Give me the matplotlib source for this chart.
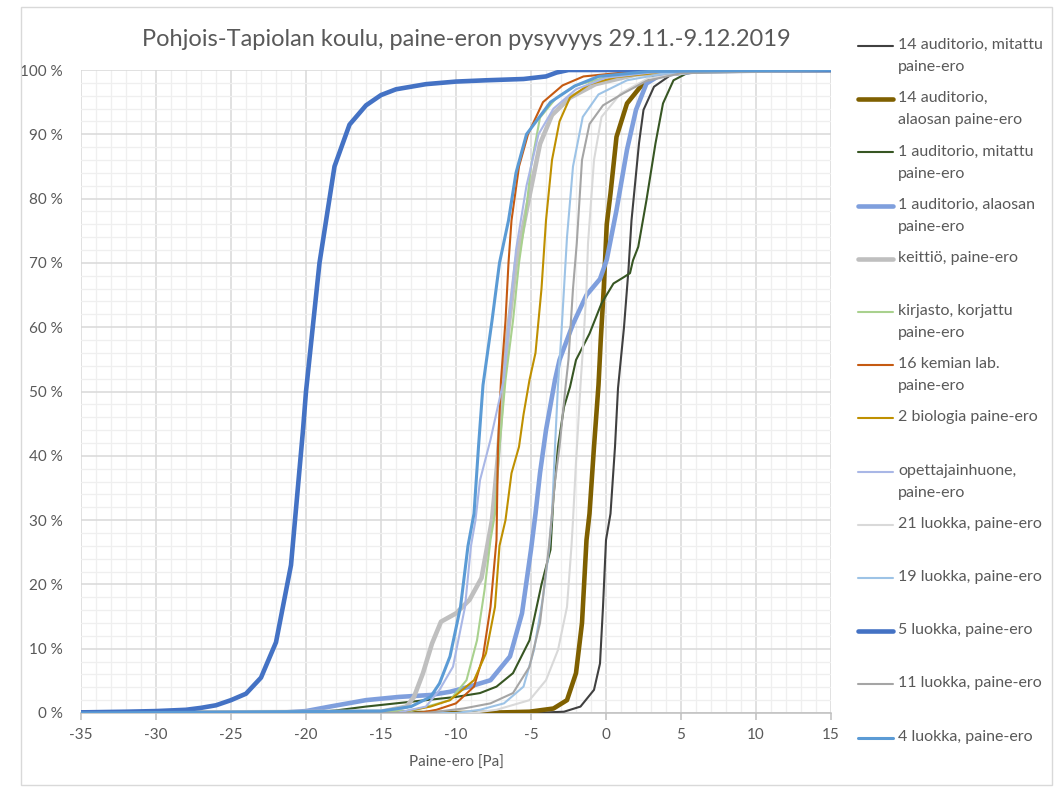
import matplotlib
matplotlib.use("Agg")
import matplotlib.pyplot as plt
from matplotlib.lines import Line2D
from matplotlib.patches import Rectangle
from matplotlib.ticker import MultipleLocator, FuncFormatter

plt.rcParams["font.family"] = ["Lato", "DejaVu Sans"]

# ============================================================
# DATA  (paine-ero [Pa], osuus ajasta [%])
# ============================================================

series_names = [
    "14 auditorio, mitattu\npaine-ero",
    "14 auditorio,\nalaosan paine-ero",
    "1 auditorio, mitattu\npaine-ero",
    "1 auditorio, alaosan\npaine-ero",
    "keittiö, paine-ero",
    "kirjasto, korjattu\npaine-ero",
    "16 kemian lab.\npaine-ero",
    "2 biologia paine-ero",
    "opettajainhuone,\npaine-ero",
    "21 luokka, paine-ero",
    "19 luokka, paine-ero",
    "5 luokka, paine-ero",
    "11 luokka, paine-ero",
    "4 luokka, paine-ero",
]

aud14_mit_x = [-35, -5, -2.8, -1.7, -0.8, -0.4, -0.2, 0.0, 0.3, 0.6, 0.8, 1.2, 1.5, 1.7, 2.2, 2.5, 3.2, 4.3, 7, 15]
aud14_mit_y = [0, 0, 0.2, 1, 3.6, 7.7, 16.5, 26.9, 31, 41.4, 50.5, 60, 69, 76.6, 88.6, 93.8, 97.4, 99.2, 99.9, 100]

aud14_ala_x = [-35, -8.4, -5.1, -3.5, -2.6, -2.0, -1.6, -1.3, -1.1, -0.8, -0.5, -0.35, -0.15, 0.05, 0.3, 0.7, 1.4, 2.3, 3.4, 6, 15]
aud14_ala_y = [0, 0, 0.2, 0.7, 2, 6.2, 14, 26.9, 31, 41.4, 51, 58, 66, 76, 80.8, 89.6, 94.8, 97.4, 99.2, 99.9, 100]

aud1_mit_x = [-35, -20, -18, -16, -14, -12, -10, -8.4, -7.3, -6.2, -5.1, -4.3, -3.7, -3.5, -3.2, -2.8, -2.4, -2.0, -1.1, -0.3, 0.5, 1.2, 1.6, 1.8, 2.15, 2.7, 3.3, 3.8, 4.5, 5.4, 8, 15]
aud1_mit_y = [0, 0, 0.4, 1, 1.5, 2, 2.5, 3.1, 4.1, 6.2, 11.3, 20, 25.4, 33.7, 41.4, 47.6, 50.7, 54.9, 59, 63.7, 66.8, 67.8, 68.4, 70.4, 72.5, 79.8, 88.6, 94.8, 98.4, 99.5, 99.9, 100]

aud1_ala_x = [-35, -22, -20, -18.4, -16, -13.8, -11.7, -10.4, -9.1, -7.7, -6.4, -5.6, -5.0, -4.7, -4.4, -4.0, -3.4, -3.1, -2.2, -1.3, -0.4, 0.05, 0.7, 1.4, 2.0, 2.7, 3.6, 6, 15]
aud1_ala_y = [0, 0, 0.3, 1, 2, 2.5, 2.8, 3.3, 4.1, 5.1, 8.8, 15.5, 25.4, 31, 37.3, 44, 51.8, 54.9, 60.5, 65, 67.5, 70.5, 78.2, 87.6, 93.8, 97.9, 99.2, 99.8, 100]

keittio_x = [-35, -15, -13.3, -12.8, -12.2, -11.6, -11.0, -10.0, -9.1, -8.3, -7.6, -7.2, -6.9, -6.5, -6.0, -5.4, -4.4, -3.6, -2.4, -0.7, 2, 5, 15]
keittio_y = [0, 0.2, 1, 2.5, 6.2, 10.8, 14.2, 15.5, 17.6, 21, 30, 40, 50, 60, 70, 77, 88.5, 93, 95.7, 97.8, 99.3, 99.8, 100]

kirjasto_x = [-35, -13, -10.4, -9.3, -8.6, -8.1, -7.7, -7.4, -7.1, -6.7, -6.2, -5.8, -5.4, -5.0, -4.4, -3.3, -2.0, 1, 15]
kirjasto_y = [0, 0.3, 2, 5.1, 11.3, 19.1, 26.9, 31, 41.4, 51.8, 61, 70, 76.6, 85, 92.6, 95.7, 97.6, 99.5, 100]

kemia16_x = [-35, -12.5, -11.3, -10.0, -8.8, -8.2, -7.7, -7.3, -7.2, -7.0, -6.7, -6.5, -6.3, -5.8, -5.2, -4.2, -2.9, -1.5, 2, 15]
kemia16_y = [0, 0, 0.5, 1.5, 4.1, 8.8, 16.5, 26.9, 41.4, 51.8, 61, 70, 76.6, 85, 90, 95, 97.6, 99, 99.8, 100]

biologia2_x = [-35, -14, -11.7, -10.4, -8.8, -8.0, -7.4, -7.1, -6.7, -6.3, -5.8, -5.5, -5.1, -4.7, -4.3, -4.0, -3.6, -3.1, -2.4, -1.1, 0.7, 4, 15]
biologia2_y = [0, 0, 1, 2, 5.1, 9.3, 16.5, 26, 30, 37.3, 41.4, 46.4, 51.8, 56, 66, 76.6, 86, 92, 95.7, 97.8, 98.9, 99.7, 100]

opettaja_x = [-35, -14, -12, -11.1, -10.2, -9.4, -9.0, -8.7, -8.4, -7.7, -6.8, -6.5, -6.0, -5.3, -4.5, -3.5, -2.0, 0, 3, 15]
opettaja_y = [0, 0, 1, 3.6, 7.2, 16.5, 26, 30, 36.2, 42.5, 52, 60, 72, 82, 90, 94, 97, 98.8, 99.6, 100]

luokka21_x = [-35, -9, -7.3, -5.1, -4.0, -3.2, -2.6, -2.3, -2.2, -2.0, -1.7, -1.5, -1.3, -1.2, -0.8, -0.3, 1.0, 2.8, 6, 15]
luokka21_y = [0, 0, 0.5, 2, 5.1, 9.8, 16.5, 26, 30, 39, 51, 58, 66, 73, 86, 92.7, 96.4, 98.7, 99.7, 100]

luokka19_x = [-35, -10, -8.4, -6.8, -5.5, -4.8, -4.2, -3.8, -3.6, -3.4, -3.2, -3.0, -2.8, -2.6, -2.2, -1.55, -0.5, 1.4, 4, 15]
luokka19_y = [0, 0, 0.5, 1.5, 4.1, 9.8, 18, 25.4, 31, 41.4, 51, 58, 66, 74, 85, 92.7, 96.2, 98.4, 99.5, 100]

luokka5_x = [-35, -32, -30, -28, -27, -26, -25, -24, -23, -22, -21, -20.2, -20, -19.1, -18.1, -17.1, -16, -15, -14, -12, -10, -8, -5.5, -4, -3.3, -2.5, 15]
luokka5_y = [0.1, 0.2, 0.3, 0.5, 0.8, 1.2, 2, 3, 5.5, 11, 23, 44, 50, 70, 85, 91.5, 94.5, 96.1, 97, 97.8, 98.2, 98.4, 98.6, 99, 99.6, 100, 100]

luokka11_x = [-35, -12, -9.5, -7.7, -6.2, -5.1, -4.4, -3.8, -3.6, -3.4, -3.1, -2.7, -2.5, -2.2, -1.95, -1.6, -1.1, -0.2, 1.1, 2.7, 5, 15]
luokka11_y = [0, 0, 0.7, 1.5, 3.1, 7.2, 14, 26, 31, 36, 41.4, 50.7, 55, 66, 73, 86, 91.6, 94.5, 96.3, 98.3, 99.5, 100]

luokka4_x = [-35, -15, -13, -11.7, -11.1, -10.4, -9.7, -9.2, -8.8, -8.5, -8.2, -7.6, -7.1, -6.5, -6.0, -5.3, -3.7, -2.1, -0.5, 3, 15]
luokka4_y = [0, 0.3, 1, 2.5, 4.6, 8.8, 16.5, 26, 31, 41.4, 51, 61, 70, 76.6, 84, 90, 95, 97.5, 99, 99.8, 100]

series_x = [aud14_mit_x, aud14_ala_x, aud1_mit_x, aud1_ala_x, keittio_x, kirjasto_x, kemia16_x,
            biologia2_x, opettaja_x, luokka21_x, luokka19_x, luokka5_x, luokka11_x, luokka4_x]
series_y = [aud14_mit_y, aud14_ala_y, aud1_mit_y, aud1_ala_y, keittio_y, kirjasto_y, kemia16_y,
            biologia2_y, opettaja_y, luokka21_y, luokka19_y, luokka5_y, luokka11_y, luokka4_y]

# ============================================================
# STYLE
# ============================================================

colors = ["#404040", "#7F6000", "#375623", "#7F9FDD", "#BFBFBF", "#A9D18E", "#C55A11",
          "#BF9000", "#A9B7E6", "#D9D9D9", "#9DC3E6", "#4472C4", "#A5A5A5", "#5B9BD5"]
widths = [1.5, 3.3, 1.5, 3.3, 3.3, 1.5, 1.5, 1.5, 1.5, 1.5, 1.5, 3.3, 1.5, 2.2]
text_color = "#595959"

# ============================================================
# PLOT
# ============================================================

fig = plt.figure(figsize=(10.59, 7.91), dpi=100)
ax = fig.add_axes([81 / 1059, 1 - 713 / 791, 750 / 1059, 643 / 791])

for xs, ys, c, lw in zip(series_x, series_y, colors, widths):
    ax.plot(xs, ys, color=c, lw=lw, solid_joinstyle="round", solid_capstyle="round", zorder=3)

ax.set_xlim(-35, 15)
ax.set_ylim(0, 100)
ax.xaxis.set_major_locator(MultipleLocator(5))
ax.xaxis.set_minor_locator(MultipleLocator(1))
ax.yaxis.set_major_locator(MultipleLocator(10))
ax.yaxis.set_minor_locator(MultipleLocator(2))
ax.yaxis.set_major_formatter(FuncFormatter(lambda v, p: f"{int(v)} %"))
ax.xaxis.set_major_formatter(FuncFormatter(lambda v, p: f"{int(v)}"))

ax.grid(which="major", color="#D9D9D9", lw=1.1, zorder=0)
ax.grid(which="minor", color="#EFEFEF", lw=0.9, zorder=0)
ax.set_axisbelow(True)

for side in ["top", "right", "left"]:
    ax.spines[side].set_visible(False)
ax.spines["bottom"].set_color("#BFBFBF")
ax.spines["bottom"].set_linewidth(1.1)

ax.tick_params(axis="x", which="major", length=5, color="#BFBFBF", width=1.1, pad=6,
               labelsize=11, labelcolor=text_color)
ax.tick_params(axis="x", which="minor", length=0)
ax.tick_params(axis="y", which="both", length=0, pad=13, labelsize=11, labelcolor=text_color)

ax.set_xlabel("Paine-ero [Pa]", fontsize=11, color=text_color, labelpad=10)
fig.text(466 / 1059, 1 - 40 / 791, "Pohjois-Tapiolan koulu, paine-eron pysyvyys 29.11.-9.12.2019",
         ha="center", va="center", fontsize=17, color=text_color)

# legend in Excel style: line at the first text row
for i, (name, c, lw) in enumerate(zip(series_names, colors, widths)):
    ypix = 46 + i * 53.2
    yf = 1 - ypix / 791
    fig.add_artist(Line2D([858 / 1059, 893 / 1059], [yf, yf], color=c, lw=lw, solid_capstyle="round"))
    fig.text(898 / 1059, yf + 8 / 791, name, ha="left", va="top", fontsize=11.5,
             color=text_color, linespacing=1.75)

# chart border
fig.add_artist(Rectangle((21 / 1059, 1 - 785 / 791), 1031 / 1059, 778 / 791, transform=fig.transFigure,
                         fill=False, edgecolor="#D9D9D9", lw=1))

fig.savefig("out.png", dpi=100)
